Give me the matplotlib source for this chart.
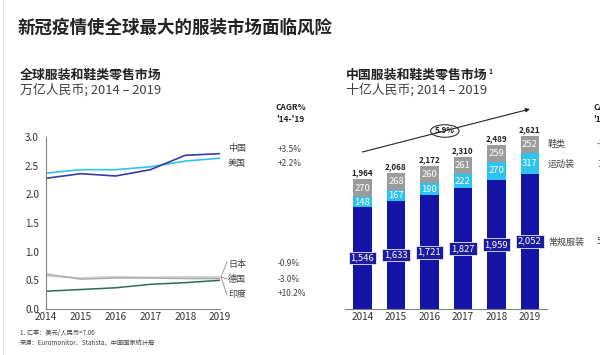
import matplotlib
matplotlib.use('Agg')
import matplotlib.pyplot as plt
from matplotlib.patches import Ellipse
from matplotlib.lines import Line2D

plt.rcParams['font.family'] = ['Noto Sans CJK SC', 'DejaVu Sans']

W, H = 600, 355

# left chart: global market, trillion RMB
years = [2014, 2015, 2016, 2017, 2018, 2019]
china = [2.28, 2.36, 2.32, 2.43, 2.68, 2.71]
usa = [2.37, 2.43, 2.43, 2.48, 2.58, 2.63]
japan = [0.58, 0.54, 0.56, 0.55, 0.56, 0.555]
germany = [0.61, 0.52, 0.54, 0.54, 0.53, 0.53]
india = [0.31, 0.34, 0.37, 0.43, 0.46, 0.50]
left_names = ['中国', '美国', '日本', '德国', '印度']
left_cagr = ['+3.5%', '+2.2%', '-0.9%', '-3.0%', '+10.2%']

# right chart: China market, billion RMB
regular = [1546, 1633, 1721, 1827, 1959, 2052]
sports = [148, 167, 190, 222, 270, 317]
shoes = [270, 268, 260, 261, 259, 252]
totals = [1964, 2068, 2172, 2310, 2489, 2621]
right_names = ['鞋类', '运动装', '常规服装']
right_cagr = ['-1.4%', '16.5%', '5.8%']
total_cagr = '5.9%'

NAVY = '#1414a6'
CYAN = '#2ec3ee'
GRAY = '#9b9b9b'
TXT = '#404040'


def fx(x):
    return x / W


def fy(y):
    return 1 - y / H


fig = plt.figure(figsize=(6.0, 3.55), dpi=100)

# faint frame line at the left edge
fig.add_artist(Line2D([fx(2.5), fx(2.5)], [0, 1], color='#e4e4e4', lw=0.8))

fig.text(fx(18), fy(28), '新冠疫情使全球最大的服装市场面临风险', fontsize=12.6,
         fontweight='bold', color='#222222', va='center')

# ---- left line chart ----
ax1 = fig.add_axes([fx(46), fy(309), fx(220) - fx(46), fy(137) - fy(309)])
ax1.plot(years, japan, color='#d0d0d0', lw=1.4)
ax1.plot(years, germany, color='#a8a8a8', lw=1.0)
ax1.plot(years, india, color='#2f6b52', lw=1.1)
ax1.plot(years, usa, color='#36c2e6', lw=1.2)
ax1.plot(years, china, color='#3a3aa6', lw=1.2)
ax1.set_xlim(2014, 2019)
ax1.set_ylim(0, 3)
ax1.set_xticks(years)
ax1.set_yticks([0, 0.5, 1.0, 1.5, 2.0, 2.5, 3.0])
ax1.set_yticklabels(['0.0', '0.5', '1.0', '1.5', '2.0', '2.5', '3.0'])
ax1.tick_params(length=0, labelsize=7.2, colors='#333333')
ax1.tick_params(axis='y', pad=5)
ax1.tick_params(axis='x', pad=2)
for s in ['top', 'right']:
    ax1.spines[s].set_visible(False)
for s in ['left', 'bottom']:
    ax1.spines[s].set_color('#808080')
    ax1.spines[s].set_linewidth(0.8)

fig.text(fx(20), fy(75), '全球服装和鞋类零售市场', fontsize=9.3, fontweight='bold',
         color='#222222', va='center')
fig.text(fx(20), fy(90), '万亿人民币; 2014 – 2019', fontsize=9.3, color=TXT, va='center')
fig.text(fx(276), fy(108), 'CAGR%', fontsize=6, fontweight='bold', color='#222222', va='center')
fig.text(fx(276), fy(120), "'14-'19", fontsize=6, fontweight='bold', color='#222222', va='center')

label_y = [149, 163, 264, 279, 294]
for name, val, y in zip(left_names, left_cagr, label_y):
    fig.text(fx(228), fy(y), name, fontsize=6.5, color=TXT, va='center')
    fig.text(fx(278), fy(y), val, fontsize=6, color=TXT, va='center')
for y in [262, 279, 295]:
    fig.add_artist(Line2D([fx(221), fx(227)], [fy(277), fy(y)], color='#888888', lw=0.6))

fig.text(fx(20), fy(333), '1. 汇率：美元/人民币=7.06', fontsize=4.5, color=TXT, va='center')
fig.text(fx(20), fy(343), '来源：Euromonitor、Statista、中国国家统计局', fontsize=4.5,
         color=TXT, va='center')

# ---- right stacked bars ----
ax2 = fig.add_axes([fx(345), fy(309), fx(547) - fx(345), fy(111) - fy(309)])
xs = list(range(len(years)))
bw = 0.55
b2 = [r + s for r, s in zip(regular, sports)]
ax2.bar(xs, regular, bw, color=NAVY)
ax2.bar(xs, sports, bw, bottom=regular, color=CYAN)
ax2.bar(xs, shoes, bw, bottom=b2, color=GRAY)
ax2.set_xlim(-0.52, 5.51)
ax2.set_ylim(0, 3000)
ax2.set_xticks(xs)
ax2.set_xticklabels([str(y) for y in years])
ax2.set_yticks([])
ax2.tick_params(length=0, labelsize=7.2, colors='#333333', pad=2)
for s in ['top', 'right', 'left']:
    ax2.spines[s].set_visible(False)
ax2.spines['bottom'].set_color('#808080')
ax2.spines['bottom'].set_linewidth(0.8)

for i in xs:
    ax2.text(i, regular[i] / 2, f'{regular[i]:,}', ha='center', va='center',
             fontsize=6.8, color='white',
             bbox=dict(boxstyle='square,pad=0.2', fc='#1a1a9e', ec='#e8e8ff', lw=0.6))
    ax2.text(i, regular[i] + sports[i] / 2, str(sports[i]), ha='center', va='center',
             fontsize=6.8, color='white')
    ax2.text(i, b2[i] + shoes[i] / 2, str(shoes[i]), ha='center', va='center',
             fontsize=6.8, color='white')
    ax2.text(i, totals[i] + 95, f'{totals[i]:,}', ha='center', va='center',
             fontsize=5.8, fontweight='bold', color='#222222')

ax2.annotate('', xy=(5, 3030), xytext=(0, 2379), annotation_clip=False,
             arrowprops=dict(arrowstyle='-|>', color='#222222', lw=0.8,
                             mutation_scale=6, shrinkA=0, shrinkB=0))
ell = Ellipse((2.46, 2697), 0.85, 190, fc='white', ec='#333333', lw=0.8, clip_on=False)
ax2.add_patch(ell)
ax2.text(2.46, 2697, total_cagr, ha='center', va='center', fontsize=5.8,
         fontweight='bold', color='#222222')

fig.text(fx(346), fy(75), '中国服装和鞋类零售市场', fontsize=9.3, fontweight='bold',
         color='#222222', va='center')
fig.text(fx(488), fy(71), '1', fontsize=5, fontweight='bold', color='#222222', va='center')
fig.text(fx(346), fy(90), '十亿人民币; 2014 – 2019', fontsize=9.3, color=TXT, va='center')

for name, y in zip(right_names, [144, 164, 242]):
    fig.text(fx(548), fy(y), name, fontsize=6.5, color=TXT, va='center')
for val, y in zip(right_cagr, [144, 164, 242]):
    fig.text(fx(597), fy(y), val, fontsize=6, color=TXT, va='center')
fig.text(fx(593), fy(108), 'CAGR%', fontsize=6, fontweight='bold', color='#222222', va='center')
fig.text(fx(593), fy(120), "'14-'19", fontsize=6, fontweight='bold', color='#222222', va='center')

fig.savefig('out.png', dpi=100)
